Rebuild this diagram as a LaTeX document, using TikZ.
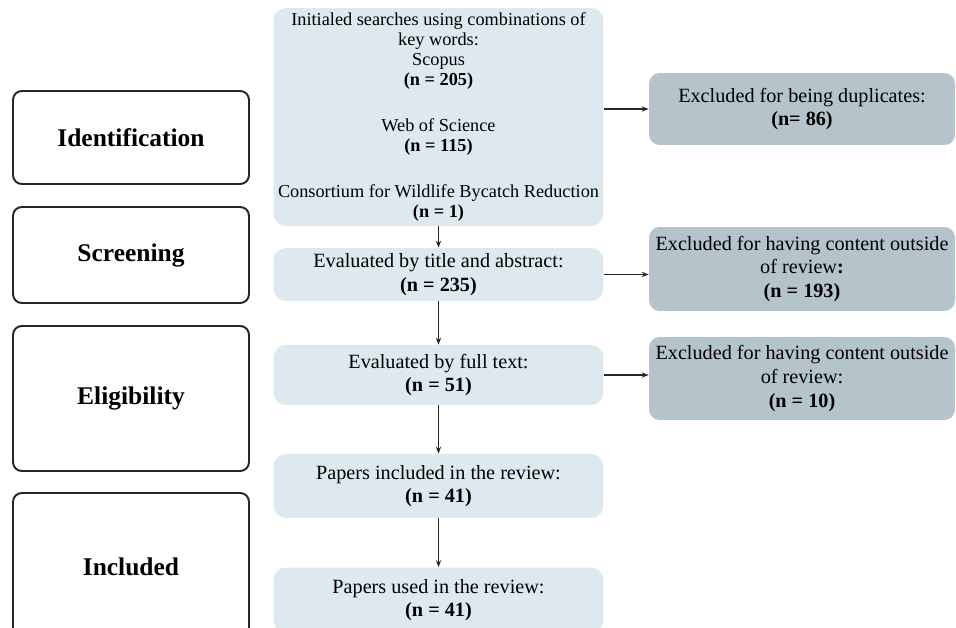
\documentclass[tikz,border=0pt]{standalone}
\usepackage{fontspec}
\setmainfont{Liberation Serif}
\usetikzlibrary{arrows.meta}
\definecolor{recordblue}{RGB}{221,233,238}
\definecolor{excludedgray}{RGB}{180,196,202}
\tikzset{
    phase/.style={draw=black!85, line width=1.1pt, rounded corners=5pt, fill=white, inner sep=0pt,
        minimum width=4.72cm, font=\fontsize{14.5}{17}\selectfont\bfseries},
}

\begin{document}
\begin{tikzpicture}[
x=0.02cm, y=-0.02cm,
record/.style={fill=recordblue, rounded corners=7pt, align=center, inner sep=0pt,
    minimum width=6.6cm, font=\fontsize{11.5}{13.4}\selectfont},
excluded/.style={fill=excludedgray, rounded corners=6pt, align=center, inner sep=0pt,
    minimum width=6.12cm, font=\fontsize{11.5}{13.6}\selectfont},
flow/.style={-{Stealth[length=4pt,width=3pt]}, line width=0.7pt, black!85},
]
\useasboundingbox (0,0) rectangle (956,628);
\clip (0,0) rectangle (956,628);

\node[phase, minimum height=1.86cm] (ident) at (131,137.5) {Identification};
\node[phase, minimum height=1.92cm] (screen) at (131,255) {Screening};
\node[phase, minimum height=2.90cm] (elig) at (131,398.5) {Eligibility};
\node[phase, minimum height=2.96cm] (incl) at (131,567) {Included};

\node[record, minimum height=4.36cm, font=\fontsize{10.4}{11.4}\selectfont] (search) at (438.5,117)
    {Initialed searches using combinations of\\key words:\\Scopus\\\textbf{(n = 205)}\\[15pt]
     Web of Science\\\textbf{(n = 115)}\\[15pt]
     Consortium for Wildlife Bycatch Reduction\\\textbf{(n = 1)}};
\node[record, minimum height=1.06cm] (title) at (438.5,274.5) {Evaluated by title and abstract:\\\textbf{(n = 235)}};
\node[record, minimum height=1.20cm] (full) at (438.5,375) {Evaluated by full text:\\\textbf{(n = 51)}};
\node[record, minimum height=1.28cm] (papers) at (438.5,486) {Papers included in the review:\\\textbf{(n = 41)}};
\node[record, minimum height=1.30cm] (used) at (438.5,600) {Papers used in the review:\\\textbf{(n = 41)}};

\node[excluded, minimum height=1.44cm] (dup) at (802,109) {Excluded for being duplicates:\\\textbf{(n= 86)}};
\node[excluded, minimum height=1.68cm] (outa) at (802,269) {Excluded for having content outside\\of review\textbf{:}\\\textbf{(n = 193)}};
\node[excluded, minimum height=1.66cm] (outb) at (802,378.5) {Excluded for having content outside\\of review:\\\textbf{(n = 10)}};

\draw[flow] (search) -- (title);
\draw[flow] (title) -- (full);
\draw[flow] (full) -- (papers);
\draw[flow] (papers) -- (used);

\draw[flow] (search.east |- dup.west) -- (dup.west);
\draw[flow] (title.east) -- (title.east -| outa.west);
\draw[flow] (full.east) -- (full.east -| outb.west);

\end{tikzpicture}
\end{document}
